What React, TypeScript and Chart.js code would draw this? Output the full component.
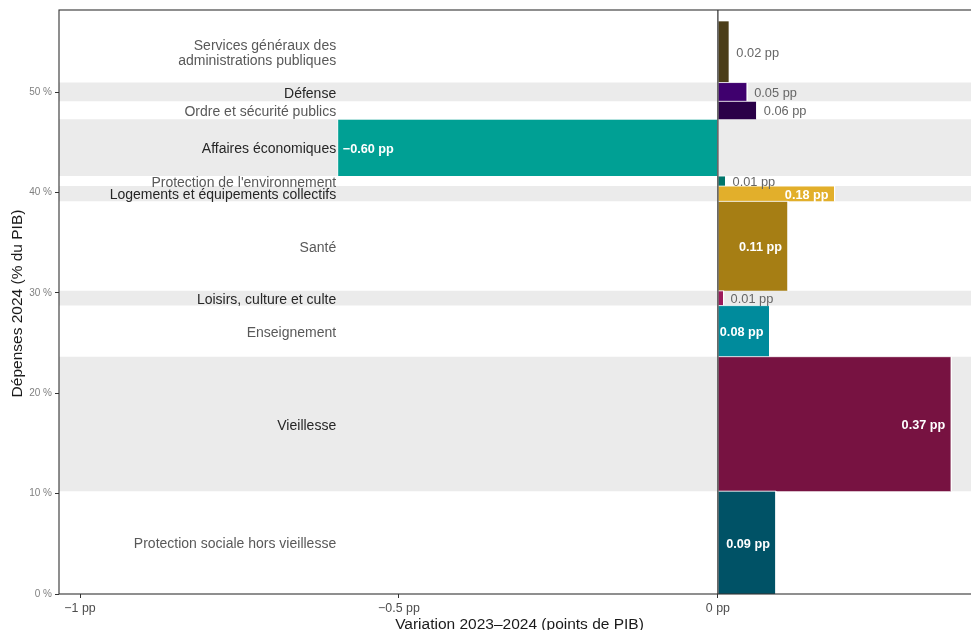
import React, { useEffect, useRef } from "react";
import { Chart, registerables } from "chart.js";

Chart.register(...registerables);

// ---- Data (bottom to top) ----
const CATEGORIES = [
  "Protection sociale hors vieillesse",
  "Vieillesse",
  "Enseignement",
  "Loisirs, culture et culte",
  "Santé",
  "Logements et équipements collectifs",
  "Protection de l'environnement",
  "Affaires économiques",
  "Ordre et sécurité publics",
  "Défense",
  "Services généraux des\nadministrations publiques",
];

// Dépenses 2024 (% du PIB)
const SPENDING_2024 = [10.25, 13.4, 5.09, 1.47, 8.92, 1.52, 1.0, 5.66, 1.79, 1.87, 6.14];

// Variation 2023–2024 (points de PIB)
const VARIATION = [0.091, 0.366, 0.081, 0.009, 0.11, 0.183, 0.012, -0.596, 0.061, 0.046, 0.018];

const COLORS = [
  "#005266",
  "#771241",
  "#008B9C",
  "#9D1A5B",
  "#A67E14",
  "#E2AF2B",
  "#00766B",
  "#00A094",
  "#2A0048",
  "#3F006E",
  "#4B3D18",
];

const X_TICKS = [-1, -0.5, 0];
const Y_TICKS = [0, 10, 20, 30, 40, 50];

const X_MIN = -1.033;
const X_MAX = 0.411;
const Y_MIN = 0;
const Y_MAX = 58.2;
const LABEL_ANCHOR = -0.6;
const INSIDE_THRESHOLD = 0.07;

const FONT = '"Liberation Sans", Arial, Helvetica, sans-serif';
const MINUS = "\u2212";

function fmtPP(v: number): string {
  return (v < 0 ? MINUS : "") + Math.abs(v).toFixed(2) + " pp";
}
function fmtTick(v: number): string {
  return (v < 0 ? MINUS + Math.abs(v) : String(v)) + " pp";
}

const BOTTOMS: number[] = [];
const TOPS: number[] = [];
{
  let acc = 0;
  for (const s of SPENDING_2024) {
    BOTTOMS.push(acc);
    acc += s;
    TOPS.push(acc);
  }
}

const overlayPlugin = {
  id: "overlay",
  afterDatasetsDraw(chart: any) {
    const { ctx, chartArea } = chart;
    const xs = chart.scales.x;
    const ys = chart.scales.y;
    ctx.save();

    // zero line
    const x0 = xs.getPixelForValue(0);
    ctx.strokeStyle = "#5f5f5f";
    ctx.lineWidth = 1.6;
    ctx.beginPath();
    ctx.moveTo(x0, chartArea.top);
    ctx.lineTo(x0, chartArea.bottom);
    ctx.stroke();

    // panel border
    ctx.strokeStyle = "#333333";
    ctx.lineWidth = 1.1;
    ctx.strokeRect(chartArea.left, chartArea.top, chartArea.right - chartArea.left, chartArea.bottom - chartArea.top);

    // category labels
    const lx = xs.getPixelForValue(LABEL_ANCHOR) + 1;
    ctx.textAlign = "right";
    ctx.textBaseline = "middle";
    ctx.font = `14px ${FONT}`;
    CATEGORIES.forEach((name, i) => {
      const cy = ys.getPixelForValue((BOTTOMS[i] + TOPS[i]) / 2) + 1.8;
      ctx.fillStyle = i % 2 === 1 ? "#262626" : "#595959";
      const lines = name.split("\n");
      const lh = 15;
      lines.forEach((ln, k) => {
        const y = cy + (k - (lines.length - 1) / 2) * lh;
        ctx.fillText(ln, lx, y);
      });
    });

    // value labels
    VARIATION.forEach((v, i) => {
      const cy = ys.getPixelForValue((BOTTOMS[i] + TOPS[i]) / 2) + 1.5;
      const xe = xs.getPixelForValue(v);
      const txt = fmtPP(v);
      if (Math.abs(v) >= INSIDE_THRESHOLD) {
        ctx.font = `bold 12.7px ${FONT}`;
        ctx.fillStyle = "#ffffff";
        if (v >= 0) {
          ctx.textAlign = "right";
          ctx.fillText(txt, xe - 6, cy);
        } else {
          ctx.textAlign = "left";
          ctx.fillText(txt, xe + 5, cy);
        }
      } else {
        ctx.font = `12.8px ${FONT}`;
        ctx.fillStyle = "#666666";
        ctx.textAlign = "left";
        ctx.fillText(txt, xe + 7, cy);
      }
    });
    ctx.restore();
  },
  afterDraw(chart: any) {
    const { ctx, chartArea } = chart;
    ctx.save();
    ctx.fillStyle = "#1a1a1a";
    ctx.font = `15.5px ${FONT}`;
    ctx.textAlign = "center";
    ctx.textBaseline = "alphabetic";
    ctx.fillText("Variation 2023\u20132024 (points de PIB)", (chartArea.left + chartArea.right) / 2, 628.5);
    ctx.translate(17.5, (chartArea.top + chartArea.bottom) / 2 + 1.5);
    ctx.rotate(-Math.PI / 2);
    ctx.textBaseline = "middle";
    ctx.fillText("Dépenses 2024 (% du PIB)", 0, 0);
    ctx.restore();
  },
};

export default function App() {
  const ref = useRef<HTMLCanvasElement | null>(null);

  useEffect(() => {
    if (!ref.current) return;

    const bands: any[] = [];
    CATEGORIES.forEach((_, i) => {
      if (i % 2 === 1) {
        bands.push({
          data: [
            { x: X_MIN, y: TOPS[i] },
            { x: X_MAX, y: TOPS[i] },
          ],
          fill: { value: BOTTOMS[i] },
          backgroundColor: "#EBEBEB",
          borderColor: "rgba(0,0,0,0)",
          borderWidth: 0,
          pointRadius: 0,
          tension: 0,
          order: 2,
        });
      }
    });

    const bars = VARIATION.map((v, i) => {
      const xa = Math.min(0, v);
      const xb = Math.max(0, v);
      return {
        data: [
          { x: xa, y: BOTTOMS[i] },
          { x: xa, y: TOPS[i] },
          { x: xb, y: TOPS[i] },
          { x: xb, y: BOTTOMS[i] },
        ],
        fill: { value: BOTTOMS[i] },
        backgroundColor: COLORS[i],
        borderColor: "#ffffff",
        borderWidth: 0.8,
        pointRadius: 0,
        tension: 0,
        order: 1,
      };
    });

    const chart = new Chart(ref.current, {
      type: "line",
      data: { datasets: [...bars, ...bands] as any },
      options: {
        animation: false,
        responsive: false,
        devicePixelRatio: 1,
        layout: { padding: { left: 0, right: 0, top: 10, bottom: 0 } },
        plugins: {
          legend: { display: false },
          tooltip: { enabled: false },
        },
        scales: {
          x: {
            type: "linear",
            min: X_MIN,
            max: X_MAX,
            afterBuildTicks: (scale: any) => {
              scale.ticks = X_TICKS.map((v) => ({ value: v }));
            },
            afterFit: (scale: any) => {
              scale.height = 36;
            },
            ticks: {
              callback: (v: any) => fmtTick(Number(v)),
              color: "#4D4D4D",
              font: { family: FONT, size: 12.4 },
              padding: 3,
              maxRotation: 0,
              autoSkip: false,
            },
            grid: {
              display: true,
              drawOnChartArea: false,
              drawTicks: true,
              tickLength: 4,
              color: "#333333",
            },
            border: { display: false },
          },
          y: {
            type: "linear",
            min: Y_MIN,
            max: Y_MAX,
            afterBuildTicks: (scale: any) => {
              scale.ticks = Y_TICKS.map((v) => ({ value: v }));
            },
            afterFit: (scale: any) => {
              scale.width = 59;
            },
            ticks: {
              callback: (v: any) => `${v} %`,
              color: "#808080",
              font: { family: FONT, size: 10 },
              padding: 3,
              autoSkip: false,
            },
            grid: {
              display: true,
              drawOnChartArea: false,
              drawTicks: true,
              tickLength: 4,
              color: "#333333",
            },
            border: { display: false },
          },
        },
      },
      plugins: [overlayPlugin],
    });

    return () => chart.destroy();
  }, []);

  return (
    <div
      style={{
        position: "fixed",
        left: 0,
        top: 0,
        width: 971,
        height: 630,
        overflow: "hidden",
        background: "#ffffff",
      }}
    >
      <canvas ref={ref} width={980} height={630} style={{ display: "block", width: 980, height: 630 }} />
    </div>
  );
}
